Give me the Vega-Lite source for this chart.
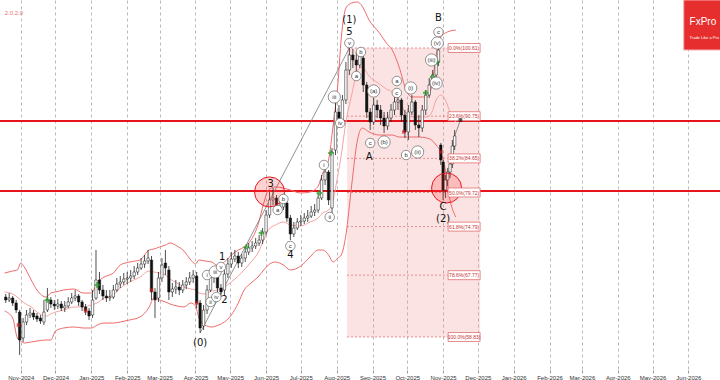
{
"$schema":"https://vega.github.io/schema/vega-lite/v6.json",
"width":720,"height":370,
"autosize":{"type":"none"},
"padding":{"left":0,"right":0,"top":0,"bottom":10},
"background":"white",
"config":{"view":{"stroke":null},"font":"Liberation Sans"},
"datasets":{
"candles":[
{"t":"2024-10-19","o":64.61,"h":65.05,"l":63.75,"c":64.18},
{"t":"2024-10-22","o":64.18,"h":65.19,"l":63.89,"c":64.47},
{"t":"2024-10-25","o":64.47,"h":64.76,"l":63.31,"c":63.75},
{"t":"2024-10-28","o":63.75,"h":64.18,"l":62.30,"c":62.73},
{"t":"2024-10-31","o":62.44,"h":62.73,"l":56.23,"c":58.40},
{"t":"2024-11-03","o":58.69,"h":61.58,"l":58.11,"c":61.00},
{"t":"2024-11-06","o":61.00,"h":62.73,"l":60.56,"c":62.01},
{"t":"2024-11-09","o":62.01,"h":63.02,"l":61.58,"c":62.30},
{"t":"2024-11-12","o":62.30,"h":62.73,"l":61.29,"c":61.72},
{"t":"2024-11-15","o":61.87,"h":62.30,"l":61.00,"c":61.43},
{"t":"2024-11-18","o":61.58,"h":62.01,"l":60.71,"c":61.14},
{"t":"2024-11-21","o":61.00,"h":64.18,"l":60.56,"c":62.44},
{"t":"2024-11-24","o":62.73,"h":65.91,"l":62.44,"c":64.18},
{"t":"2024-11-27","o":64.18,"h":64.61,"l":63.02,"c":63.60},
{"t":"2024-11-30","o":63.60,"h":64.18,"l":62.73,"c":63.31},
{"t":"2024-12-03","o":63.31,"h":64.32,"l":62.88,"c":63.60},
{"t":"2024-12-06","o":63.60,"h":64.03,"l":62.59,"c":63.02},
{"t":"2024-12-09","o":63.02,"h":64.03,"l":62.44,"c":63.31},
{"t":"2024-12-12","o":63.31,"h":64.61,"l":63.02,"c":63.89},
{"t":"2024-12-15","o":63.89,"h":65.19,"l":63.60,"c":64.47},
{"t":"2024-12-18","o":64.47,"h":65.62,"l":64.03,"c":64.76},
{"t":"2024-12-21","o":64.76,"h":65.05,"l":63.31,"c":63.89},
{"t":"2024-12-24","o":63.89,"h":64.18,"l":62.59,"c":63.17},
{"t":"2024-12-27","o":63.17,"h":63.60,"l":62.01,"c":62.59},
{"t":"2024-12-30","o":62.59,"h":63.02,"l":61.29,"c":61.87},
{"t":"2025-01-02","o":62.01,"h":65.62,"l":61.58,"c":64.18},
{"t":"2025-01-05","o":64.47,"h":71.41,"l":64.18,"c":67.07},
{"t":"2025-01-08","o":67.07,"h":68.23,"l":65.05,"c":65.62},
{"t":"2025-01-11","o":65.62,"h":66.35,"l":64.18,"c":64.76},
{"t":"2025-01-14","o":64.76,"h":65.62,"l":63.89,"c":64.47},
{"t":"2025-01-17","o":64.47,"h":65.62,"l":64.03,"c":64.61},
{"t":"2025-01-20","o":64.61,"h":66.35,"l":64.32,"c":65.62},
{"t":"2025-01-23","o":65.62,"h":67.36,"l":65.34,"c":66.49},
{"t":"2025-01-26","o":66.49,"h":67.65,"l":65.91,"c":66.78},
{"t":"2025-01-29","o":66.78,"h":68.08,"l":66.35,"c":67.21},
{"t":"2025-02-01","o":67.21,"h":68.23,"l":66.49,"c":67.36},
{"t":"2025-02-04","o":67.36,"h":68.52,"l":66.78,"c":67.65},
{"t":"2025-02-07","o":67.65,"h":69.09,"l":67.21,"c":68.23},
{"t":"2025-02-10","o":68.23,"h":69.53,"l":67.79,"c":68.81},
{"t":"2025-02-13","o":68.81,"h":70.25,"l":68.52,"c":69.38},
{"t":"2025-02-16","o":69.38,"h":70.68,"l":68.81,"c":69.82},
{"t":"2025-02-19","o":69.82,"h":71.41,"l":69.38,"c":70.25},
{"t":"2025-02-22","o":69.96,"h":70.54,"l":64.18,"c":65.34},
{"t":"2025-02-25","o":65.34,"h":65.91,"l":61.58,"c":64.18},
{"t":"2025-02-28","o":64.47,"h":68.23,"l":63.89,"c":67.36},
{"t":"2025-03-03","o":67.36,"h":70.25,"l":66.78,"c":69.24},
{"t":"2025-03-06","o":69.53,"h":71.41,"l":67.79,"c":68.81},
{"t":"2025-03-09","o":68.52,"h":69.09,"l":64.18,"c":65.34},
{"t":"2025-03-12","o":65.34,"h":66.64,"l":64.61,"c":65.77},
{"t":"2025-03-15","o":65.77,"h":67.07,"l":65.05,"c":66.06},
{"t":"2025-03-18","o":66.06,"h":66.78,"l":64.90,"c":65.62},
{"t":"2025-03-21","o":65.62,"h":67.07,"l":65.19,"c":66.35},
{"t":"2025-03-24","o":66.35,"h":67.50,"l":65.77,"c":66.78},
{"t":"2025-03-27","o":66.78,"h":68.23,"l":66.35,"c":67.36},
{"t":"2025-03-30","o":67.36,"h":68.52,"l":66.64,"c":67.79},
{"t":"2025-04-02","o":67.65,"h":68.23,"l":63.02,"c":63.75},
{"t":"2025-04-05","o":63.75,"h":64.18,"l":59.41,"c":60.13},
{"t":"2025-04-08","o":60.42,"h":63.46,"l":59.84,"c":62.73},
{"t":"2025-04-11","o":62.73,"h":66.35,"l":62.16,"c":65.62},
{"t":"2025-04-14","o":65.62,"h":68.23,"l":65.34,"c":67.50},
{"t":"2025-04-17","o":67.50,"h":68.52,"l":66.64,"c":67.65},
{"t":"2025-04-20","o":67.65,"h":67.94,"l":65.34,"c":65.91},
{"t":"2025-04-23","o":65.91,"h":66.49,"l":64.61,"c":65.34},
{"t":"2025-04-26","o":65.62,"h":68.81,"l":64.90,"c":67.94},
{"t":"2025-04-29","o":67.94,"h":70.25,"l":67.36,"c":69.38},
{"t":"2025-05-02","o":69.38,"h":71.12,"l":68.81,"c":70.11},
{"t":"2025-05-05","o":70.11,"h":71.41,"l":69.67,"c":70.54},
{"t":"2025-05-08","o":70.54,"h":71.12,"l":68.81,"c":69.53},
{"t":"2025-05-11","o":69.53,"h":70.83,"l":68.95,"c":70.25},
{"t":"2025-05-14","o":70.25,"h":71.84,"l":69.67,"c":71.12},
{"t":"2025-05-17","o":71.12,"h":72.42,"l":70.68,"c":71.70},
{"t":"2025-05-20","o":71.70,"h":72.71,"l":71.12,"c":71.99},
{"t":"2025-05-23","o":71.99,"h":73.14,"l":71.55,"c":72.42},
{"t":"2025-05-26","o":72.42,"h":73.58,"l":71.99,"c":72.85},
{"t":"2025-05-29","o":72.85,"h":74.59,"l":72.27,"c":74.01},
{"t":"2025-06-01","o":74.01,"h":77.19,"l":73.58,"c":76.47},
{"t":"2025-06-04","o":76.47,"h":79.79,"l":76.03,"c":78.64},
{"t":"2025-06-07","o":78.64,"h":80.37,"l":77.91,"c":78.93},
{"t":"2025-06-10","o":78.93,"h":79.36,"l":76.61,"c":77.19},
{"t":"2025-06-13","o":77.19,"h":78.20,"l":76.61,"c":77.62},
{"t":"2025-06-16","o":77.62,"h":78.93,"l":77.19,"c":78.20},
{"t":"2025-06-19","o":78.20,"h":78.64,"l":75.46,"c":76.03},
{"t":"2025-06-22","o":76.03,"h":76.47,"l":72.85,"c":73.72},
{"t":"2025-06-25","o":73.72,"h":75.46,"l":73.29,"c":74.59},
{"t":"2025-06-28","o":74.59,"h":76.03,"l":74.30,"c":75.46},
{"t":"2025-07-01","o":75.46,"h":76.47,"l":74.88,"c":75.60},
{"t":"2025-07-04","o":75.60,"h":76.76,"l":75.17,"c":76.03},
{"t":"2025-07-07","o":76.03,"h":77.19,"l":75.46,"c":76.32},
{"t":"2025-07-10","o":76.32,"h":77.77,"l":76.03,"c":76.90},
{"t":"2025-07-13","o":76.90,"h":78.06,"l":76.32,"c":77.19},
{"t":"2025-07-16","o":77.19,"h":79.65,"l":76.76,"c":78.93},
{"t":"2025-07-19","o":78.93,"h":82.25,"l":78.64,"c":81.53},
{"t":"2025-07-22","o":81.53,"h":83.70,"l":80.80,"c":82.68},
{"t":"2025-07-25","o":82.68,"h":82.97,"l":77.91,"c":78.64},
{"t":"2025-07-28","o":77.48,"h":86.15,"l":76.61,"c":85.58},
{"t":"2025-07-31","o":85.86,"h":93.09,"l":85.14,"c":91.36},
{"t":"2025-08-03","o":91.36,"h":92.37,"l":89.05,"c":90.20},
{"t":"2025-08-06","o":90.20,"h":93.82,"l":89.48,"c":93.09},
{"t":"2025-08-09","o":93.09,"h":98.59,"l":92.51,"c":97.43},
{"t":"2025-08-12","o":97.43,"h":100.61,"l":96.71,"c":99.60},
{"t":"2025-08-15","o":99.60,"h":100.47,"l":97.72,"c":98.88},
{"t":"2025-08-18","o":98.88,"h":100.03,"l":96.71,"c":98.15},
{"t":"2025-08-21","o":98.15,"h":100.32,"l":97.72,"c":99.45},
{"t":"2025-08-24","o":99.16,"h":99.60,"l":94.25,"c":95.26},
{"t":"2025-08-27","o":95.26,"h":95.70,"l":90.49,"c":91.36},
{"t":"2025-08-30","o":91.36,"h":91.94,"l":88.76,"c":89.91},
{"t":"2025-09-02","o":89.91,"h":93.38,"l":89.48,"c":92.37},
{"t":"2025-09-05","o":92.37,"h":93.09,"l":90.49,"c":91.65},
{"t":"2025-09-08","o":91.65,"h":92.37,"l":89.48,"c":90.49},
{"t":"2025-09-11","o":90.49,"h":91.36,"l":88.32,"c":89.33},
{"t":"2025-09-14","o":89.33,"h":91.36,"l":88.76,"c":90.49},
{"t":"2025-09-17","o":90.49,"h":92.51,"l":89.91,"c":91.65},
{"t":"2025-09-20","o":91.65,"h":93.53,"l":90.92,"c":92.80},
{"t":"2025-09-23","o":92.80,"h":94.11,"l":91.65,"c":93.09},
{"t":"2025-09-26","o":93.09,"h":93.38,"l":89.91,"c":90.92},
{"t":"2025-09-29","o":90.92,"h":91.65,"l":87.60,"c":88.47},
{"t":"2025-10-02","o":88.47,"h":92.37,"l":87.31,"c":91.36},
{"t":"2025-10-05","o":91.36,"h":93.82,"l":90.92,"c":92.80},
{"t":"2025-10-08","o":92.80,"h":93.09,"l":88.76,"c":89.48},
{"t":"2025-10-11","o":89.48,"h":90.92,"l":87.74,"c":89.05},
{"t":"2025-10-14","o":89.05,"h":92.37,"l":88.47,"c":91.65},
{"t":"2025-10-17","o":91.65,"h":94.54,"l":90.92,"c":93.82},
{"t":"2025-10-20","o":93.82,"h":96.27,"l":93.38,"c":95.26},
{"t":"2025-10-23","o":95.26,"h":97.43,"l":94.83,"c":96.71},
{"t":"2025-10-26","o":96.71,"h":99.16,"l":96.27,"c":98.59},
{"t":"2025-10-28","o":98.59,"h":100.76,"l":98.01,"c":100.32},
{"t":"2025-10-30","o":86.59,"h":86.88,"l":83.70,"c":84.42},
{"t":"2025-11-01","o":84.13,"h":84.42,"l":78.64,"c":80.08},
{"t":"2025-11-03","o":80.08,"h":82.25,"l":78.93,"c":81.53},
{"t":"2025-11-05","o":81.53,"h":83.26,"l":80.66,"c":82.68},
{"t":"2025-11-07","o":82.68,"h":84.42,"l":81.82,"c":83.84},
{"t":"2025-11-09","o":83.84,"h":87.31,"l":83.26,"c":86.44},
{"t":"2025-11-11","o":86.44,"h":88.76,"l":85.86,"c":87.89}
],
"bands":[
{"t":"2024-10-18","u":68.08,"m":65.34,"lo":62.59},
{"t":"2024-10-25","u":68.37,"m":65.05,"lo":61.58},
{"t":"2024-10-29","u":68.52,"m":64.61,"lo":58.69},
{"t":"2024-11-01","u":69.53,"m":64.18,"lo":58.25},
{"t":"2024-11-04","u":68.95,"m":63.75,"lo":57.96},
{"t":"2024-11-10","u":67.07,"m":63.17,"lo":58.11},
{"t":"2024-11-15","u":65.62,"m":62.44,"lo":58.25},
{"t":"2024-11-23","u":64.61,"m":61.87,"lo":58.40},
{"t":"2024-11-27","u":65.19,"m":62.16,"lo":58.40},
{"t":"2024-12-01","u":65.34,"m":62.44,"lo":59.70},
{"t":"2024-12-08","u":65.62,"m":62.73,"lo":60.13},
{"t":"2024-12-17","u":65.77,"m":63.17,"lo":60.28},
{"t":"2024-12-25","u":65.19,"m":63.17,"lo":60.13},
{"t":"2025-01-01","u":65.19,"m":63.46,"lo":60.13},
{"t":"2025-01-06","u":66.64,"m":63.75,"lo":60.56},
{"t":"2025-01-12","u":67.50,"m":64.47,"lo":60.85},
{"t":"2025-01-20","u":68.08,"m":64.90,"lo":60.85},
{"t":"2025-01-26","u":69.24,"m":65.91,"lo":61.00},
{"t":"2025-02-03","u":69.67,"m":66.78,"lo":61.29},
{"t":"2025-02-12","u":69.96,"m":67.50,"lo":61.72},
{"t":"2025-02-20","u":71.41,"m":68.37,"lo":63.17},
{"t":"2025-02-24","u":71.55,"m":68.23,"lo":64.47},
{"t":"2025-03-01","u":71.84,"m":68.08,"lo":64.18},
{"t":"2025-03-06","u":72.13,"m":67.79,"lo":63.89},
{"t":"2025-03-10","u":72.42,"m":67.21,"lo":63.60},
{"t":"2025-03-16","u":71.99,"m":66.64,"lo":63.31},
{"t":"2025-03-22","u":71.26,"m":66.06,"lo":63.17},
{"t":"2025-03-28","u":69.96,"m":65.77,"lo":63.75},
{"t":"2025-04-01","u":69.38,"m":65.62,"lo":63.31},
{"t":"2025-04-04","u":69.96,"m":65.19,"lo":61.58},
{"t":"2025-04-09","u":69.82,"m":65.05,"lo":60.56},
{"t":"2025-04-15","u":69.67,"m":65.48,"lo":60.28},
{"t":"2025-04-21","u":69.09,"m":65.62,"lo":60.56},
{"t":"2025-04-26","u":69.67,"m":66.06,"lo":61.00},
{"t":"2025-05-02","u":70.68,"m":66.78,"lo":62.01},
{"t":"2025-05-08","u":71.41,"m":67.65,"lo":63.75},
{"t":"2025-05-13","u":71.84,"m":68.52,"lo":65.62},
{"t":"2025-05-19","u":72.85,"m":69.67,"lo":66.64},
{"t":"2025-05-25","u":75.02,"m":70.97,"lo":67.50},
{"t":"2025-05-30","u":78.20,"m":72.85,"lo":68.52},
{"t":"2025-06-03","u":80.08,"m":74.30,"lo":69.24},
{"t":"2025-06-09","u":80.52,"m":75.02,"lo":69.67},
{"t":"2025-06-16","u":80.37,"m":75.46,"lo":69.24},
{"t":"2025-06-22","u":80.08,"m":75.02,"lo":68.52},
{"t":"2025-07-01","u":79.65,"m":74.88,"lo":69.09},
{"t":"2025-07-09","u":79.79,"m":75.46,"lo":70.40},
{"t":"2025-07-16","u":80.66,"m":76.03,"lo":71.41},
{"t":"2025-07-20","u":82.54,"m":76.76,"lo":71.41},
{"t":"2025-07-25","u":84.42,"m":77.19,"lo":70.68},
{"t":"2025-07-29","u":89.48,"m":78.64,"lo":69.67},
{"t":"2025-08-02","u":95.26,"m":82.25,"lo":70.25},
{"t":"2025-08-05","u":102.06,"m":85.14,"lo":70.68},
{"t":"2025-08-09","u":106.39,"m":89.91,"lo":73.58},
{"t":"2025-08-14","u":107.12,"m":93.82,"lo":80.80},
{"t":"2025-08-19","u":107.26,"m":97.29,"lo":87.31},
{"t":"2025-08-23","u":106.68,"m":97.86,"lo":89.05},
{"t":"2025-08-29","u":104.66,"m":96.56,"lo":88.47},
{"t":"2025-09-07","u":102.78,"m":95.41,"lo":88.03},
{"t":"2025-09-13","u":101.33,"m":94.68,"lo":88.03},
{"t":"2025-09-18","u":100.32,"m":94.25,"lo":88.03},
{"t":"2025-09-24","u":97.86,"m":92.80,"lo":87.74},
{"t":"2025-09-30","u":94.54,"m":91.21,"lo":87.74},
{"t":"2025-10-05","u":93.53,"m":90.64,"lo":87.74},
{"t":"2025-10-11","u":93.53,"m":90.64,"lo":87.74},
{"t":"2025-10-18","u":93.53,"m":90.64,"lo":87.60},
{"t":"2025-10-22","u":94.97,"m":91.21,"lo":87.31},
{"t":"2025-10-26","u":99.60,"m":93.09,"lo":86.59},
{"t":"2025-10-30","u":102.20,"m":93.82,"lo":85.58},
{"t":"2025-11-03","u":102.78,"m":93.09,"lo":82.97},
{"t":"2025-11-07","u":103.07,"m":91.36,"lo":78.64},
{"t":"2025-11-12","u":103.21,"m":89.91,"lo":76.18}
],
"labels":[
{"t":"2025-04-05","p":57.96,"s":"(0)"},
{"t":"2025-04-24","p":70.40,"s":"1"},
{"t":"2025-04-26","p":64.18,"s":"2"},
{"t":"2025-06-05","p":80.95,"s":"3"},
{"t":"2025-06-22","p":70.68,"s":"4"},
{"t":"2025-08-12","p":102.92,"s":"5"},
{"t":"2025-08-12","p":104.66,"s":"(1)"},
{"t":"2025-08-29","p":84.85,"s":"A"},
{"t":"2025-10-28","p":104.95,"s":"B"},
{"t":"2025-11-01","p":77.62,"s":"C"},
{"t":"2025-11-01","p":75.89,"s":"(2)"}
],
"circ":[
{"t":"2025-04-11","p":67.79,"s":"i"},
{"t":"2025-04-18","p":68.23,"s":"iii"},
{"t":"2025-04-23","p":68.95,"s":"v"},
{"t":"2025-04-14","p":63.89,"s":"ii"},
{"t":"2025-04-19","p":64.61,"s":"iv"},
{"t":"2025-06-11","p":77.19,"s":"a"},
{"t":"2025-06-16","p":78.78,"s":"b"},
{"t":"2025-06-22","p":71.99,"s":"c"},
{"t":"2025-07-21","p":83.70,"s":"i"},
{"t":"2025-07-26","p":76.18,"s":"ii"},
{"t":"2025-07-30","p":93.53,"s":"iii"},
{"t":"2025-08-04","p":89.77,"s":"iv"},
{"t":"2025-08-12","p":101.33,"s":"v"},
{"t":"2025-08-18","p":96.56,"s":"a"},
{"t":"2025-08-22","p":100.03,"s":"b"},
{"t":"2025-08-30","p":86.88,"s":"c"},
{"t":"2025-09-02","p":94.39,"s":"(a)"},
{"t":"2025-09-11","p":87.02,"s":"(b)"},
{"t":"2025-09-22","p":95.84,"s":"a"},
{"t":"2025-09-22","p":94.11,"s":"c"},
{"t":"2025-09-30","p":85.14,"s":"b"},
{"t":"2025-10-04","p":94.83,"s":"(i)"},
{"t":"2025-10-10","p":85.58,"s":"(ii)"},
{"t":"2025-10-22","p":98.88,"s":"(iii)"},
{"t":"2025-10-26","p":95.55,"s":"(iv)"},
{"t":"2025-10-27","p":101.33,"s":"(v)"},
{"t":"2025-10-28","p":102.92,"s":"c"}
],
"marks":[
{"t":"2024-11-24","p":64.18,"k":"buy"},
{"t":"2025-01-06","p":66.35,"k":"buy"},
{"t":"2025-05-15","p":71.84,"k":"buy"},
{"t":"2025-05-28","p":73.87,"k":"buy"},
{"t":"2025-07-17","p":79.65,"k":"buy"},
{"t":"2025-07-27","p":85.43,"k":"buy"},
{"t":"2025-10-17","p":94.11,"k":"buy"},
{"t":"2025-10-23","p":96.42,"k":"buy"},
{"t":"2025-10-27","p":98.59,"k":"buy"},
{"t":"2024-10-30","p":60.56,"k":"sell"},
{"t":"2024-12-27","p":62.59,"k":"sell"},
{"t":"2025-02-22","p":65.62,"k":"sell"},
{"t":"2025-04-02","p":63.75,"k":"sell"},
{"t":"2025-09-28","p":88.47,"k":"sell"},
{"t":"2025-10-30","p":85.58,"k":"sell"}
],
"fib":[
{"t1":"2025-08-10","t2":"2025-12-03","p":100.61,"lab":"0.0%(100.61)"},
{"t1":"2025-08-10","t2":"2025-12-03","p":90.75,"lab":"23.6%(90.75)"},
{"t1":"2025-08-10","t2":"2025-12-03","p":84.65,"lab":"38.2%(84.65)"},
{"t1":"2025-08-10","t2":"2025-12-03","p":79.72,"lab":"50.0%(79.72)"},
{"t1":"2025-08-10","t2":"2025-12-03","p":74.79,"lab":"61.8%(74.79)"},
{"t1":"2025-08-10","t2":"2025-12-03","p":67.77,"lab":"78.6%(67.77)"},
{"t1":"2025-08-10","t2":"2025-12-03","p":58.83,"lab":"100.0%(58.83)"}
],
"zone":[{"t1":"2025-08-10","t2":"2025-12-03","p1":58.83,"p2":100.61}],
"hl":[{"p":90.06},{"p":79.94}],
"rings":[{"t":"2025-06-04","p":79.8},{"t":"2025-11-04","p":80.37}],
"lines":[
{"t":"2025-04-05","p":59.41,"g":"trend"},
{"t":"2025-08-12","p":100.61,"g":"trend"},
{"t":"2025-11-11","p":87.89,"g":"arrow"},
{"t":"2025-11-16","p":90.20,"g":"arrow"}
],
"arrowEnd":[{"t":"2025-11-16","p":90.20}],
"logo":[{"t1":"2026-05-28","t2":"2026-06-30","p1":100.32,"p2":107.55}],
"logoText":[
{"t":"2026-06-02","p":104.3,"s":"FxPro","k":"big"},
{"t":"2026-06-02","p":102.0,"s":"Trade Like a Pro","k":"small"}
],
"corner":[{"t":"2024-10-19","p":105.67,"s":"2.0.2.0"}]
},
"layer":[
{"data":{"name":"zone"},"mark":{"type":"rect","fill":"#f08080","opacity":0.22,"clip":true},
 "encoding":{
  "x":{"field":"t1","type":"temporal","scale":{"type":"utc","domain":[{"year":2024,"month":10,"date":18,"hours":8,"minutes":40,"utc":true},{"year":2026,"month":6,"date":24,"utc":true}]},
   "axis":{"format":"%b-%Y","tickCount":{"interval":"month","step":1},"labelFontSize":6,"labelColor":"#333","domain":false,"ticks":true,"tickSize":3,"tickColor":"#999","grid":true,"gridColor":"#a8a8a8","gridDash":[3,3],"gridWidth":0.8,"labelPadding":1,"title":null,"labelOverlap":false,"labelFlush":false}},
  "x2":{"field":"t2"},
  "y":{"field":"p1","type":"quantitative","scale":{"domain":[54.06,107.55],"nice":false,"zero":false},"axis":null},
  "y2":{"field":"p2"}}},
{"data":{"name":"fib"},"mark":{"type":"rule","stroke":"#e07a7a","strokeWidth":0.8,"strokeDash":[2,2],"clip":true},
 "encoding":{"x":{"field":"t1","type":"temporal"},"x2":{"field":"t2"},"y":{"field":"p","type":"quantitative","axis":null}}},
{"data":{"name":"hl"},"mark":{"type":"rule","stroke":"#e8141c","strokeWidth":2,"clip":true},
 "encoding":{"y":{"field":"p","type":"quantitative","axis":null}}},
{"data":{"name":"bands"},"mark":{"type":"line","stroke":"#f06a6a","strokeWidth":1,"clip":true,"interpolate":"monotone"},
 "encoding":{"x":{"field":"t","type":"temporal"},"y":{"field":"u","type":"quantitative","axis":null}}},
{"data":{"name":"bands"},"mark":{"type":"line","stroke":"#f5a3a3","strokeWidth":1,"clip":true,"interpolate":"monotone"},
 "encoding":{"x":{"field":"t","type":"temporal"},"y":{"field":"m","type":"quantitative","axis":null}}},
{"data":{"name":"bands"},"mark":{"type":"line","stroke":"#f06a6a","strokeWidth":1,"clip":true,"interpolate":"monotone"},
 "encoding":{"x":{"field":"t","type":"temporal"},"y":{"field":"lo","type":"quantitative","axis":null}}},
{"data":{"name":"lines"},"mark":{"type":"line","stroke":"#777","strokeWidth":0.8,"clip":true},
 "encoding":{"x":{"field":"t","type":"temporal"},"y":{"field":"p","type":"quantitative","axis":null},"detail":{"field":"g"}}},
{"data":{"name":"candles"},"mark":{"type":"rule","stroke":"#222","strokeWidth":0.8,"clip":true},
 "encoding":{"x":{"field":"t","type":"temporal"},"y":{"field":"l","type":"quantitative","axis":null},"y2":{"field":"h"}}},
{"data":{"name":"candles"},"mark":{"type":"bar","width":2.4,"stroke":"#111","strokeWidth":0.5,"clip":true},
 "encoding":{"x":{"field":"t","type":"temporal"},"y":{"field":"o","type":"quantitative","axis":null},"y2":{"field":"c"},
  "fill":{"condition":{"test":"datum.c>=datum.o","value":"#ffffff"},"value":"#111111"}}},
{"data":{"name":"marks"},"mark":{"type":"point","filled":true,"clip":true},
 "encoding":{"x":{"field":"t","type":"temporal"},"y":{"field":"p","type":"quantitative","axis":null},
  "color":{"field":"k","type":"nominal","scale":{"domain":["buy","sell"],"range":["#1f9a1f","#d41f1f"]},"legend":null},
  "shape":{"field":"k","type":"nominal","scale":{"domain":["buy","sell"],"range":["cross","square"]},"legend":null},
  "size":{"condition":{"test":"datum.k=='buy'","value":30},"value":12}}},
{"data":{"name":"rings"},"mark":{"type":"point","shape":"circle","size":900,"filled":true,"fill":"#ff3030","fillOpacity":0.22,"stroke":"#e8141c","strokeWidth":1,"clip":true},
 "encoding":{"x":{"field":"t","type":"temporal"},"y":{"field":"p","type":"quantitative","axis":null}}},
{"data":{"name":"circ"},"mark":{"type":"point","shape":"circle","filled":true,"fill":"#ffffff","stroke":"#666","strokeWidth":0.7,"opacity":1,"clip":true},
 "encoding":{"x":{"field":"t","type":"temporal"},"y":{"field":"p","type":"quantitative","axis":null},
  "size":{"condition":{"test":"length(datum.s)>2","value":150},"value":90}}},
{"data":{"name":"circ"},"mark":{"type":"text","fontSize":6,"color":"#333","baseline":"middle","align":"center","clip":true},
 "encoding":{"x":{"field":"t","type":"temporal"},"y":{"field":"p","type":"quantitative","axis":null},"text":{"field":"s"}}},
{"data":{"name":"labels"},"mark":{"type":"text","fontSize":10,"color":"#111","baseline":"middle","align":"center","font":"DejaVu Sans","clip":true},
 "encoding":{"x":{"field":"t","type":"temporal"},"y":{"field":"p","type":"quantitative","axis":null},"text":{"field":"s"}}},
{"data":{"name":"fib"},"mark":{"type":"point","shape":"M-1,-0.28L1,-0.28L1,0.28L-1,0.28Z","size":1024,"filled":true,"fill":"#ffffff","stroke":"#e07070","strokeWidth":0.8,"opacity":1,"xOffset":-16,"clip":true},
 "encoding":{"x":{"field":"t2","type":"temporal"},"y":{"field":"p","type":"quantitative","axis":null}}},
{"data":{"name":"fib"},"mark":{"type":"text","fontSize":5,"color":"#c83030","baseline":"middle","align":"center","dx":-16,"clip":true},
 "encoding":{"x":{"field":"t2","type":"temporal"},"y":{"field":"p","type":"quantitative","axis":null},"text":{"field":"lab"}}},
{"data":{"name":"arrowEnd"},"mark":{"type":"point","shape":"square","size":14,"filled":true,"color":"#111","clip":true},
 "encoding":{"x":{"field":"t","type":"temporal"},"y":{"field":"p","type":"quantitative","axis":null}}},
{"data":{"name":"logo"},"mark":{"type":"rect","fill":"#e62e2e","stroke":"#f5b0b0","strokeWidth":1,"clip":true},
 "encoding":{"x":{"field":"t1","type":"temporal"},"x2":{"field":"t2"},"y":{"field":"p1","type":"quantitative","axis":null},"y2":{"field":"p2"}}},
{"data":{"name":"logoText"},"mark":{"type":"text","color":"#ffffff","align":"left","baseline":"middle","clip":true},
 "encoding":{"x":{"field":"t","type":"temporal"},"y":{"field":"p","type":"quantitative","axis":null},"text":{"field":"s"},
  "size":{"condition":{"test":"datum.k=='big'","value":10},"value":4},
  "font":{"condition":{"test":"datum.k=='big'","value":"DejaVu Serif"},"value":"Liberation Sans"},
  "fontWeight":{"condition":{"test":"datum.k=='big'","value":"bold"},"value":"normal"}}},
{"data":{"name":"corner"},"mark":{"type":"text","fontSize":6,"color":"#f07070","align":"left","baseline":"middle","dx":-1,"clip":true},
 "encoding":{"x":{"field":"t","type":"temporal"},"y":{"field":"p","type":"quantitative","axis":null},"text":{"field":"s"}}}
]
}
